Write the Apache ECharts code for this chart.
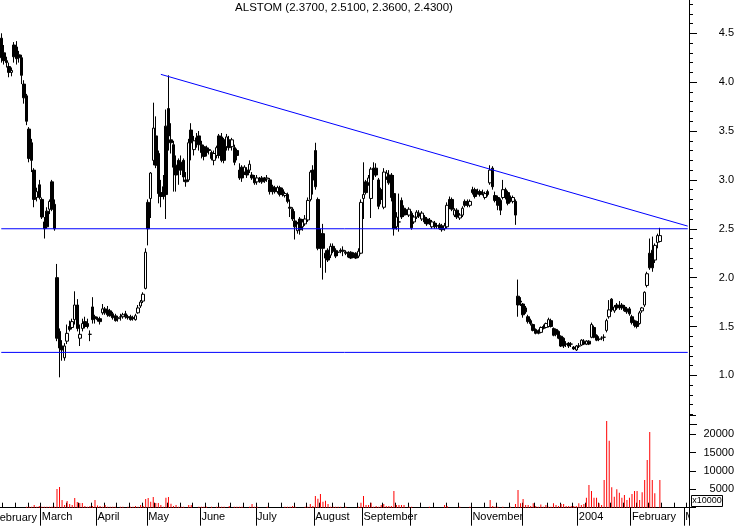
<!DOCTYPE html>
<html><head><meta charset="utf-8">
<script src="https://cdn.jsdelivr.net/npm/echarts@6/dist/echarts.min.js"></script>
<style>html,body{margin:0;padding:0;background:#fff}#c{width:737px;height:526px}</style>
</head><body><div id="c"></div>
<script>
// ---- axis / calendar layout ----
const monthNames = ['February','March','April','May','June','July','August','September','October','November','December','2004','February','March'];
const monthBars  = [16,22,20,21,22,23,19,19,24,20,22,21,21,2];
const monthLabelShown = [false,true,true,true,true,true,true,true,false,true,false,true,true,true];
const priceTicks = [1.0,1.5,2.0,2.5,3.0,3.5,4.0,4.5];
const volumeTicks = [5000,10000,15000,20000];
const titleText = 'ALSTOM (2.3700, 2.5100, 2.3600, 2.4300)';
// horizontal support lines and the falling resistance trend line (category index, price)
const supportLevels = [2.50, 1.235];
const trendStart = [63, 4.08];
const trendEnd = [271, 2.527];

// ---- daily prices, rows of [open, high, low, close] ----
const p_feb03 = [[4.45,4.50,4.20,4.25],[4.30,4.38,4.18,4.22],[4.22,4.26,4.15,4.20],[4.16,4.20,4.05,4.10],[4.10,4.15,4.06,4.12],[4.38,4.41,4.20,4.26],[4.36,4.42,4.18,4.24],[4.28,4.32,4.20,4.25],[4.25,4.28,3.98,4.07],[3.98,4.02,3.78,3.84],[3.86,3.88,3.56,3.60],[3.52,3.54,3.18,3.22],[3.38,3.42,3.08,3.20],[3.10,3.12,2.72,2.80],[2.82,2.92,2.78,2.88],[2.95,3.00,2.80,2.82]];
const p_mar03 = [[2.80,2.82,2.60,2.62],[2.57,2.62,2.40,2.50],[2.68,2.72,2.50,2.52],[2.70,2.80,2.65,2.78],[2.98,3.00,2.68,2.70],[2.75,2.80,2.48,2.50],[2.00,2.14,1.35,1.38],[1.45,1.48,0.98,1.28],[1.30,1.36,1.15,1.26],[1.18,1.33,1.15,1.30],[1.35,1.52,1.32,1.43],[1.50,1.56,1.45,1.47],[1.49,1.58,1.47,1.55],[1.57,1.86,1.52,1.72],[1.72,1.78,1.45,1.48],[1.38,1.52,1.30,1.42],[1.48,1.58,1.45,1.53],[1.55,1.60,1.48,1.50],[1.53,1.58,1.48,1.50],[1.42,1.46,1.35,1.42],[1.70,1.80,1.53,1.57],[1.60,1.62,1.53,1.58]];
const p_apr03 = [[1.58,1.60,1.55,1.57],[1.58,1.60,1.52,1.55],[1.64,1.73,1.62,1.68],[1.68,1.70,1.62,1.64],[1.67,1.71,1.60,1.62],[1.66,1.68,1.60,1.61],[1.63,1.65,1.57,1.59],[1.61,1.63,1.55,1.56],[1.58,1.61,1.55,1.59],[1.60,1.63,1.56,1.60],[1.60,1.64,1.58,1.62],[1.63,1.66,1.58,1.60],[1.60,1.62,1.57,1.59],[1.60,1.62,1.56,1.57],[1.59,1.61,1.56,1.58],[1.57,1.63,1.56,1.61],[1.64,1.72,1.63,1.69],[1.71,1.77,1.69,1.75],[1.76,1.85,1.74,1.83],[1.89,2.30,1.88,2.26]];
const p_may03 = [[2.77,2.80,2.33,2.50],[2.81,3.08,2.61,3.07],[3.20,3.79,3.15,3.53],[3.45,3.65,3.12,3.15],[3.27,3.30,2.76,2.86],[2.87,3.00,2.72,2.83],[2.93,3.05,2.80,2.83],[3.55,3.72,2.60,2.85],[3.73,4.07,3.30,3.45],[3.41,3.58,3.27,3.38],[3.36,3.40,2.88,3.13],[3.15,3.25,2.88,3.05],[3.20,3.22,2.95,3.10],[3.18,3.25,3.05,3.10],[3.20,3.22,2.98,3.03],[3.00,3.08,2.93,2.98],[3.00,3.42,2.98,3.38],[3.51,3.58,3.20,3.38],[3.31,3.45,3.25,3.40],[3.43,3.48,3.33,3.38],[3.45,3.50,3.30,3.36]];
const p_jun03 = [[3.36,3.40,3.22,3.28],[3.34,3.36,3.20,3.24],[3.33,3.35,3.24,3.28],[3.31,3.33,3.26,3.30],[3.28,3.30,3.20,3.22],[3.20,3.30,3.15,3.27],[3.25,3.35,3.22,3.33],[3.45,3.47,3.22,3.25],[3.44,3.48,3.18,3.20],[3.41,3.43,3.17,3.20],[3.34,3.47,3.30,3.44],[3.41,3.45,3.30,3.33],[3.34,3.43,3.30,3.41],[3.33,3.36,3.15,3.18],[3.30,3.32,3.20,3.25],[3.10,3.17,3.00,3.02],[3.13,3.15,2.98,3.02],[3.08,3.15,3.05,3.13],[3.10,3.13,3.02,3.05],[3.10,3.20,3.07,3.16],[3.05,3.08,3.00,3.02],[3.02,3.05,2.95,2.97]];
const p_jul03 = [[2.98,3.05,2.95,3.02],[3.00,3.03,2.97,3.00],[3.02,3.04,2.96,2.98],[3.02,3.03,2.97,2.99],[3.01,3.05,2.98,3.02],[3.00,3.02,2.85,2.88],[2.93,2.95,2.85,2.88],[2.92,2.94,2.86,2.88],[2.88,2.94,2.86,2.92],[2.92,2.94,2.83,2.85],[2.90,2.92,2.83,2.85],[2.84,2.88,2.82,2.86],[2.85,2.87,2.76,2.78],[2.72,2.80,2.62,2.71],[2.70,2.72,2.58,2.60],[2.58,2.68,2.39,2.52],[2.48,2.57,2.45,2.55],[2.60,2.62,2.44,2.49],[2.52,2.60,2.48,2.57],[2.55,2.64,2.53,2.60],[2.59,2.82,2.57,2.79],[2.80,3.10,2.78,3.08],[3.10,3.15,2.85,3.00]];
const p_aug03 = [[3.30,3.38,2.90,2.93],[2.80,2.82,2.28,2.30],[2.45,2.50,2.10,2.30],[2.45,2.55,1.98,2.30],[2.25,2.28,2.05,2.20],[2.28,2.30,2.16,2.18],[2.23,2.35,2.20,2.32],[2.32,2.35,2.25,2.27],[2.28,2.30,2.20,2.22],[2.26,2.28,2.22,2.26],[2.28,2.30,2.25,2.27],[2.28,2.32,2.22,2.27],[2.26,2.28,2.23,2.25],[2.25,2.27,2.20,2.21],[2.26,2.27,2.19,2.20],[2.24,2.26,2.20,2.21],[2.25,2.26,2.19,2.20],[2.22,2.30,2.20,2.27],[2.25,2.80,2.24,2.77]];
const p_sep03 = [[2.81,3.18,2.60,2.85],[2.98,3.00,2.85,2.87],[2.97,3.05,2.94,3.02],[2.81,3.13,2.61,3.11],[3.12,3.18,3.00,3.05],[3.12,3.17,3.03,3.05],[3.00,3.02,2.70,2.73],[2.90,2.92,2.75,2.80],[2.72,3.12,2.70,3.08],[3.03,3.10,3.00,3.07],[3.05,3.10,2.95,2.97],[3.05,3.07,2.78,2.82],[2.86,3.05,2.43,2.50],[2.52,2.67,2.49,2.62],[2.57,2.86,2.47,2.57],[2.79,2.82,2.60,2.62],[2.71,2.74,2.62,2.64],[2.67,2.70,2.64,2.67],[2.64,2.72,2.62,2.70]];
const p_oct03 = [[2.66,2.68,2.49,2.51],[2.57,2.64,2.55,2.62],[2.62,2.69,2.60,2.67],[2.66,2.69,2.61,2.63],[2.60,2.68,2.58,2.66],[2.62,2.64,2.55,2.57],[2.60,2.62,2.53,2.55],[2.59,2.61,2.54,2.56],[2.52,2.59,2.50,2.57],[2.56,2.58,2.50,2.52],[2.53,2.56,2.50,2.53],[2.54,2.56,2.49,2.50],[2.53,2.55,2.47,2.49],[2.50,2.56,2.48,2.53],[2.52,2.77,2.50,2.74],[2.80,2.83,2.70,2.72],[2.80,2.82,2.68,2.70],[2.64,2.71,2.62,2.69],[2.69,2.71,2.60,2.62],[2.61,2.66,2.59,2.64],[2.64,2.73,2.62,2.71],[2.78,2.80,2.72,2.74],[2.78,2.80,2.72,2.74],[2.74,2.80,2.72,2.78]];
const p_nov03 = [[2.90,2.93,2.85,2.87],[2.90,2.92,2.81,2.83],[2.88,2.91,2.85,2.88],[2.88,2.90,2.83,2.85],[2.87,2.90,2.84,2.87],[2.82,2.88,2.80,2.86],[2.88,2.90,2.83,2.85],[2.97,3.15,2.95,3.10],[3.12,3.14,2.90,2.93],[2.84,2.88,2.77,2.79],[2.82,2.84,2.69,2.74],[2.79,2.81,2.64,2.69],[2.82,3.00,2.80,2.90],[2.90,2.92,2.80,2.82],[2.87,2.89,2.74,2.76],[2.82,2.84,2.77,2.79],[2.78,2.84,2.76,2.82],[2.78,2.80,2.54,2.64],[1.81,1.98,1.60,1.72],[1.76,1.80,1.71,1.75]];
const p_dec03 = [[1.73,1.74,1.59,1.62],[1.69,1.71,1.63,1.65],[1.60,1.62,1.53,1.55],[1.56,1.58,1.51,1.53],[1.52,1.53,1.45,1.46],[1.47,1.48,1.42,1.43],[1.46,1.47,1.42,1.43],[1.44,1.50,1.43,1.49],[1.50,1.52,1.47,1.48],[1.49,1.54,1.48,1.53],[1.50,1.59,1.49,1.57],[1.56,1.58,1.49,1.50],[1.48,1.49,1.40,1.41],[1.47,1.48,1.40,1.42],[1.45,1.46,1.37,1.38],[1.40,1.41,1.29,1.30],[1.38,1.39,1.28,1.30],[1.32,1.35,1.29,1.32],[1.33,1.34,1.28,1.30],[1.32,1.34,1.29,1.32],[1.29,1.30,1.26,1.27],[1.26,1.31,1.25,1.30]];
const p_jan04 = [[1.30,1.33,1.28,1.30],[1.31,1.37,1.30,1.36],[1.35,1.37,1.31,1.32],[1.32,1.36,1.31,1.35],[1.35,1.36,1.31,1.32],[1.39,1.54,1.38,1.52],[1.49,1.51,1.38,1.39],[1.41,1.42,1.35,1.36],[1.37,1.40,1.35,1.37],[1.38,1.40,1.36,1.38],[1.39,1.42,1.35,1.39],[1.46,1.58,1.44,1.56],[1.60,1.77,1.58,1.67],[1.78,1.79,1.65,1.67],[1.66,1.72,1.64,1.70],[1.72,1.74,1.67,1.69],[1.71,1.76,1.67,1.71],[1.72,1.74,1.67,1.69],[1.70,1.72,1.65,1.66],[1.68,1.70,1.63,1.65],[1.68,1.70,1.61,1.63]];
const p_feb04 = [[1.60,1.62,1.52,1.54],[1.56,1.57,1.49,1.51],[1.55,1.56,1.48,1.50],[1.53,1.66,1.52,1.64],[1.66,1.70,1.64,1.69],[1.72,1.86,1.70,1.85],[1.92,2.06,1.90,2.04],[2.25,2.40,2.08,2.10],[2.28,2.42,2.06,2.10],[2.18,2.35,2.15,2.33],[2.36,2.45,2.30,2.43],[2.37,2.51,2.36,2.43]];

// ---- daily volume (axis units, x10000) ----
const v_feb03 = [0,0,0,0,0,0,0,0,0,0,270,270,270,720,270,450];
const v_mar03 = [270,270,270,270,270,270,5070,5620,2080,725,1810,1000,725,2630,1540,1270,1270,450,270,450,450,2080];
const v_apr03 = [630,450,270,725,270,270,270,270,0,270,270,0,270,270,270,450,270,725,450,2350];
const v_may03 = [2630,1630,2900,1270,1270,725,270,2720,2900,1090,450,725,270,270,270,0,725,725,0,0,270];
const v_jun03 = [270,270,270,0,270,0,270,270,270,270,0,450,0,270,270,270,270,0,0,270,1000,270];
const v_jul03 = [270,0,0,0,270,0,0,0,0,0,0,270,270,270,450,270,0,0,0,270,270,1000,450];
const v_aug03 = [3170,2450,3710,1630,1900,1000,270,270,270,270,270,0,270,0,0,0,0,270,1360];
const v_sep03 = [3170,725,725,1360,270,450,270,725,1000,450,450,450,4530,725,725,725,725,0,270];
const v_oct03 = [270,0,0,0,0,0,0,270,0,0,0,0,0,725,450,0,0,0,0,270,0,0,0,270];
const v_nov03 = [0,0,0,0,0,0,0,2080,450,270,270,0,270,0,0,270,0,1000,4800,1180];
const v_dec03 = [2350,725,725,450,1180,450,270,900,270,725,270,270,1180,725,450,1000,1000,450,450,450,450,450];
const v_jan04 = [1180,725,1000,2720,6160,4530,2720,2720,1180,725,7520,23560,18200,5530,3000,4980,4080,2720,3440,2080,2720];
const v_feb04 = [3710,4530,4530,2080,4170,7520,12960,20570,7520,3900,0,7520];

// ---- build library inputs ----
const ohlc = [].concat(p_feb03,p_mar03,p_apr03,p_may03,p_jun03,p_jul03,p_aug03,p_sep03,p_oct03,p_nov03,p_dec03,p_jan04,p_feb04);
const candleData = ohlc.map(r => [r[0], r[3], r[2], r[1]]); // open, close, low, high
const volumes = [].concat(v_feb03,v_mar03,v_apr03,v_may03,v_jun03,v_jul03,v_aug03,v_sep03,v_oct03,v_nov03,v_dec03,v_jan04,v_feb04);

const categories = [], isMonthStart = [], labelText = [], isWeekStart = [];
monthNames.forEach((m, k) => {
  for (let d = 0; d < monthBars[k]; d++) {
    const idx = categories.length;
    categories.push(m + ' day ' + (d + 1));
    isMonthStart[idx] = (d === 0 && k > 0);
    labelText[idx] = (d === 0 && monthLabelShown[k]) ? m : null;
  }
});
for (let i = 0; i < categories.length; i++) isWeekStart[i] = (i % 5 === 1);
const firstIdx = 0, lastIdx = categories.length - 1;

const FONT = "'Liberation Sans', Arial, sans-serif";
const BLUE = '#0000ff';
const near = (list, v) => list.some(t => Math.abs(t - v) < 1e-6);

// each drawn line is its own small line series on the price axes
const lineSeries = (name, pts) => ({
  type: 'line', name: name, xAxisIndex: 0, yAxisIndex: 0, data: pts, z: 5,
  showSymbol: false, symbol: 'none', silent: true, animation: false,
  itemStyle: {color: BLUE}, lineStyle: {color: BLUE, width: 1, type: 'solid', opacity: 1},
  emphasis: {disabled: true}
});

const chart = echarts.init(document.getElementById('c'), null, {renderer: 'canvas'});
chart.setOption({
  animation: false,
  backgroundColor: '#ffffff',
  color: [BLUE],
  title: {
    text: titleText, left: 344, top: 2, textAlign: 'center', padding: 0,
    textStyle: {fontSize: 11.5, fontWeight: 'normal', color: '#000', fontFamily: FONT}
  },
  grid: [
    {left: 0, right: 48, top: -15.57, height: 439.8, containLabel: false, outerBoundsMode: 'none'},
    {left: 0, right: 48, top: 415.7, height: 92, containLabel: false, outerBoundsMode: 'none'},
    {left: 0, right: 48, top: 415.7, height: 92, containLabel: false, outerBoundsMode: 'none'}
  ],
  xAxis: [
    {type: 'category', gridIndex: 0, data: categories, boundaryGap: true, show: false,
     axisLine: {show: false}, axisTick: {show: false}, axisLabel: {show: false}, splitLine: {show: false}},
    {type: 'category', gridIndex: 1, data: categories, boundaryGap: true, position: 'bottom',
     axisLine: {show: true, lineStyle: {color: '#000', width: 1}},
     axisTick: {show: true, inside: false, length: 18, alignWithLabel: false,
                interval: (i) => !!isMonthStart[i], lineStyle: {color: '#000', width: 1}},
     axisLabel: {show: true, interval: (i) => labelText[i] != null,
                 formatter: (v, i) => labelText[i] || '', align: 'left', margin: 4,
                 fontSize: 11, color: '#000', fontFamily: FONT},
     splitLine: {show: false}},
    {type: 'category', gridIndex: 2, data: categories, boundaryGap: true, position: 'bottom',
     axisLine: {show: false},
     axisTick: {show: true, inside: true, length: 5, alignWithLabel: false,
                interval: (i) => !!isWeekStart[i], lineStyle: {color: '#000', width: 1}},
     axisLabel: {show: false}, splitLine: {show: false}}
  ],
  yAxis: [
    {type: 'value', gridIndex: 0, position: 'right', min: 0.5, max: 5.0, interval: 0.5, scale: false,
     axisLine: {show: true, onZero: false, lineStyle: {color: '#000', width: 1}},
     axisTick: {show: true, length: 8, lineStyle: {color: '#000'}},
     minorTick: {show: true, splitNumber: 5, length: 4, lineStyle: {color: '#000'}},
     splitLine: {show: false}, minorSplitLine: {show: false},
     axisLabel: {align: 'right', margin: 45, fontSize: 11, color: '#000', fontFamily: FONT,
                 formatter: (v) => near(priceTicks, v) ? v.toFixed(1) : ''}},
    {type: 'value', gridIndex: 1, position: 'right', min: 0, max: 25000, interval: 5000,
     axisLine: {show: true, onZero: false, lineStyle: {color: '#000', width: 1}},
     axisTick: {show: true, length: 7, lineStyle: {color: '#000'}},
     splitLine: {show: false},
     axisLabel: {align: 'right', margin: 45, fontSize: 11, color: '#000', fontFamily: FONT,
                 formatter: (v) => near(volumeTicks, v) ? String(v) : ''}},
    {type: 'value', gridIndex: 2, show: false, splitLine: {show: false}}
  ],
  series: [
    {type: 'candlestick', name: 'ALSTOM', xAxisIndex: 0, yAxisIndex: 0, data: candleData,
     barWidth: 3, z: 2,
     itemStyle: {color: '#ffffff', color0: '#000000', borderColor: '#000000', borderColor0: '#000000',
                 borderColorDoji: '#000000', borderWidth: 1}},
    lineSeries('Resistance', [trendStart, trendEnd]),
    lineSeries('Support 2.50', [[firstIdx, supportLevels[0]], [lastIdx, supportLevels[0]]]),
    lineSeries('Support 1.235', [[firstIdx, supportLevels[1]], [lastIdx, supportLevels[1]]]),
    {type: 'bar', name: 'Volume', xAxisIndex: 1, yAxisIndex: 1, data: volumes,
     barWidth: 1, itemStyle: {color: '#ff0000'}, silent: true}
  ],
  graphic: [
    {type: 'text', x: -7, y: 512, z: 100,
     style: {text: monthNames[0], fontSize: 11, fill: '#000', fontFamily: FONT, align: 'left', verticalAlign: 'top'}},
    {type: 'rect', z: 100, shape: {x: 690, y: 509, width: 47, height: 17}, style: {fill: '#fff'}},
    {type: 'rect', z: 100, shape: {x: 691.5, y: 495.5, width: 31, height: 11}, style: {fill: '#fff', stroke: '#000', lineWidth: 1}},
    {type: 'text', z: 101, x: 707, y: 501,
     style: {text: 'x10000', fontSize: 9, fill: '#000', fontFamily: FONT, align: 'center', verticalAlign: 'middle'}}
  ]
});
</script>
</body></html>
